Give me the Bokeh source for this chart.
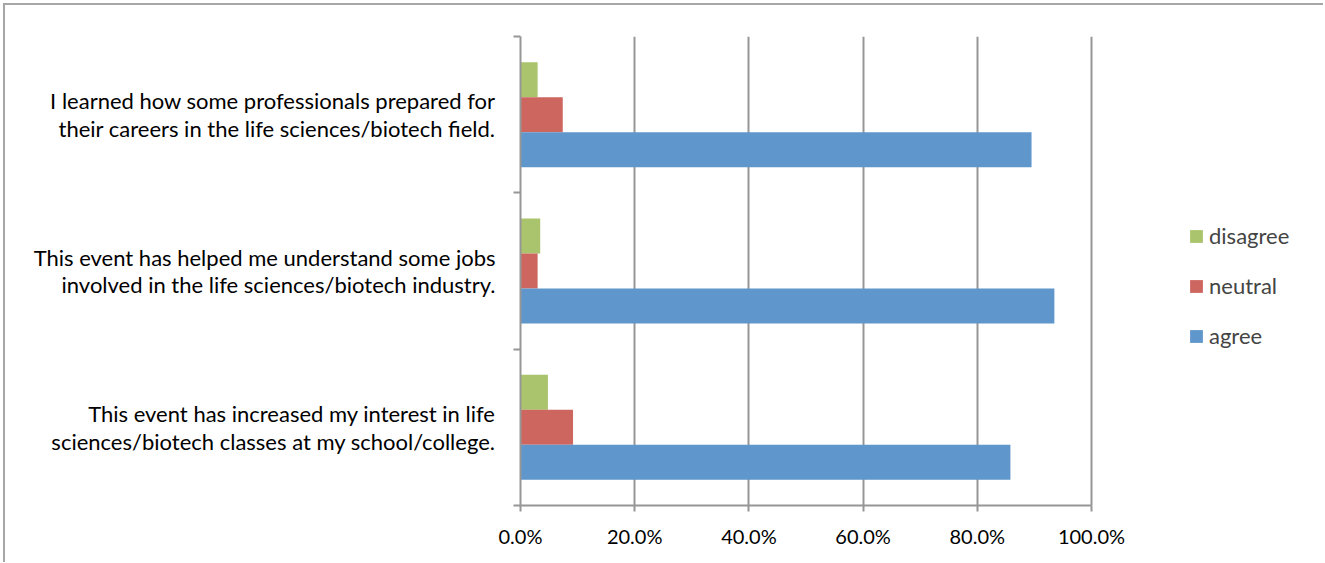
from bokeh.plotting import figure
from bokeh.models import ColumnDataSource, FixedTicker, Legend, LegendItem, NumeralTickFormatter, LinearAxis
from bokeh.embed import file_html
from bokeh.resources import INLINE

categories = [
    "I learned how some professionals prepared for\ntheir careers in the life sciences/biotech field.",
    "This event has helped me understand some jobs\ninvolved in the life sciences/biotech industry.",
    "This event has increased my interest in life\nsciences/biotech classes at my school/college.",
]
series = ["disagree", "neutral", "agree"]
disagree = [0.030, 0.0345, 0.048]
neutral = [0.074, 0.030, 0.092]
agree = [0.895, 0.935, 0.858]
x_ticks = [0.0, 0.2, 0.4, 0.6, 0.8, 1.0]

colors = {"disagree": "#A9C46C", "neutral": "#CC665E", "agree": "#5F96CB"}
FONT = "Lato"

n = len(categories)
ycent = [n - 0.5 - i for i in range(n)]
bh = 0.224
offsets = {"disagree": bh, "neutral": 0.0, "agree": -bh}
values = {"disagree": disagree, "neutral": neutral, "agree": agree}

# layout: value axis 0..100% spans 571 px; frame extended to the right to host the legend
W, H = 1320, 559
left_b, right_b, top_b, bottom_b = 515, 10, 31, 59
frame_w = W - left_b - right_b
x_end = 1.0 * frame_w / 571.0

p = figure(width=W, height=H, x_range=(0, x_end), y_range=(0, n),
           output_backend="svg", toolbar_location=None,
           min_border_left=left_b, min_border_right=right_b,
           min_border_top=top_b, min_border_bottom=bottom_b)
p.margin = (5, 0, 0, 5)
p.styles = {"box-shadow": "-2px -2px 0px 0px #a6a6a6"}
p.outline_line_color = None

renderers = {}
for s in series:
    src = ColumnDataSource(dict(y=[c + offsets[s] for c in ycent], right=values[s]))
    renderers[s] = p.hbar(y="y", left=0, right="right", height=bh, source=src,
                          fill_color=colors[s], line_color=None)

p.xaxis.ticker = FixedTicker(ticks=x_ticks)
p.xaxis.bounds = (0, 1.0)
p.xaxis.formatter = NumeralTickFormatter(format="0.0%")
p.xaxis.axis_line_color = "#969696"
p.xaxis.axis_line_width = 2
p.xaxis.major_tick_line_color = "#969696"
p.xaxis.major_tick_line_width = 2
p.xaxis.major_tick_in = 0
p.xaxis.major_tick_out = 6
p.xaxis.minor_tick_line_color = None
p.xaxis.major_label_text_font = FONT
p.xaxis.major_label_text_font_size = "20px"
p.xaxis.major_label_text_color = "black"
p.xaxis.major_label_standoff = 12

p.yaxis.ticker = FixedTicker(ticks=list(range(n + 1)))
p.yaxis.major_label_text_font_size = "0px"
p.yaxis.major_label_standoff = 0
p.yaxis.axis_line_color = "#969696"
p.yaxis.axis_line_width = 2
p.yaxis.major_tick_line_color = "#969696"
p.yaxis.major_tick_line_width = 2
p.yaxis.major_tick_in = 0
p.yaxis.major_tick_out = 7
p.yaxis.minor_tick_line_color = None

cat_axis = LinearAxis(ticker=FixedTicker(ticks=ycent),
                      major_label_overrides={yc: cat for yc, cat in zip(ycent, categories)})
cat_axis.axis_line_color = None
cat_axis.major_tick_line_color = None
cat_axis.minor_tick_line_color = None
cat_axis.major_label_text_font = FONT
cat_axis.major_label_text_font_size = "22px"
cat_axis.major_label_text_color = "black"
cat_axis.major_label_text_line_height = 1.02
cat_axis.major_label_standoff = 12
p.add_layout(cat_axis, "left")

p.xgrid.ticker = FixedTicker(ticks=x_ticks[1:])
p.xgrid.grid_line_color = "#969696"
p.xgrid.grid_line_width = 2
p.ygrid.grid_line_color = None

legend = Legend(items=[LegendItem(label=s, renderers=[renderers[s]]) for s in series],
                location=(668, 156), orientation="vertical",
                glyph_width=16, glyph_height=16, label_standoff=5, spacing=23,
                label_text_font=FONT, label_text_font_size="22px",
                border_line_color=None, background_fill_alpha=0, padding=0, margin=0)
p.add_layout(legend, "center")

open("out.html", "w").write(file_html(p, INLINE))
